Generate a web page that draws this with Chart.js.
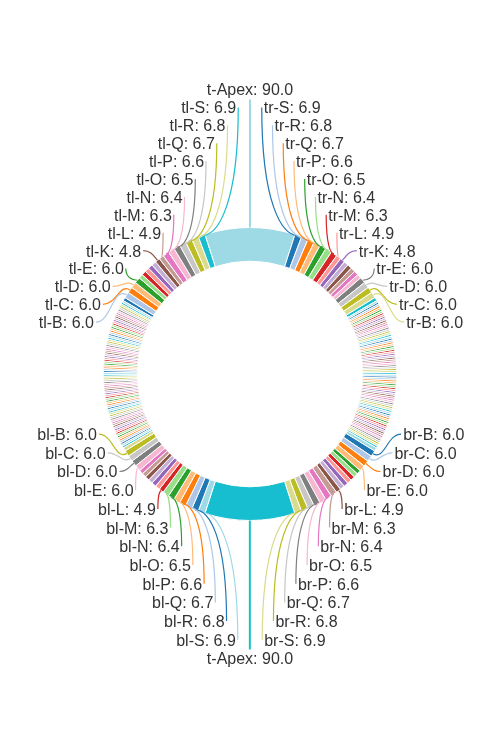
<!DOCTYPE html>
<html><head><meta charset="utf-8">
<script src="https://cdn.jsdelivr.net/npm/chart.js@4"></script>
<style>html,body{margin:0;padding:0;background:#fff}canvas{display:block}</style>
</head><body>
<canvas id="c" width="500" height="750"></canvas>
<script>
const letters = ['A','B','C','D','E','F','G','H','I','J','K','L','M','N','O','P','Q','R','S'];
const tlValues = [3.5,6.0,6.0,6.0,6.0,4.3,4.4,4.5,4.6,4.7,4.8,4.9,6.3,6.4,6.5,6.6,6.7,6.8,6.9];
const trValues = [3.5,6.0,6.0,6.0,6.0,4.3,4.4,4.5,4.6,4.7,4.8,4.9,6.3,6.4,6.5,6.6,6.7,6.8,6.9];
const brValues = [3.5,6.0,6.0,6.0,6.0,4.2,4.3,4.4,4.5,4.6,4.7,4.9,6.3,6.4,6.5,6.6,6.7,6.8,6.9];
const blValues = [3.5,6.0,6.0,6.0,6.0,4.2,4.3,4.4,4.5,4.6,4.7,4.9,6.3,6.4,6.5,6.6,6.7,6.8,6.9];
const topApexValue = 90.0;
const bottomApexValue = 90.0;
const thinRightValues = [
 1.9,1.9,1.9,1.9,1.9,1.9,1.9,1.9,1.9,1.9,
 1.9,1.9,1.9,1.9,1.9,1.9,1.9,1.9,1.9,1.9,
 1.9,1.9,1.9,1.9,1.9,1.9,1.9,1.9,1.9,1.9,
 1.9,1.9,1.9,1.9,1.9,1.9,1.9,1.9,1.9,1.9,
 1.9,1.9,1.9,1.9,1.9,1.9,1.9,1.9,1.9,1.9,
 1.9,1.9,1.9,1.9,1.9,1.9,1.9,1.9,1.9,1.9,
 1.9,1.9,1.9,1.9,1.9,1.9,1.9,1.9,1.9,1.9,
 1.9,1.9,1.9,1.9,1.9,1.9,1.9,1.9,1.9,1.9];
const thinLeftValues = [
 1.85,1.85,1.85,1.85,1.85,1.85,1.85,1.85,1.85,1.85,
 1.85,1.85,1.85,1.85,1.85,1.85,1.85,1.85,1.85,1.85,
 1.85,1.85,1.85,1.85,1.85,1.85,1.85,1.85,1.85,1.85,
 1.85,1.85,1.85,1.85,1.85,1.85,1.85,1.85,1.85,1.85,
 1.85,1.85,1.85,1.85,1.85,1.85,1.85,1.85,1.85,1.85,
 1.85,1.85,1.85,1.85,1.85,1.85,1.85,1.85,1.85,1.85,
 1.85,1.85,1.85,1.85,1.85,1.85,1.85,1.85,1.85,1.85,
 1.85,1.85,1.85,1.85,1.85,1.85,1.85,1.85,1.85,1.85,
 1.85,1.85];
const palette = ['#1f77b4','#aec7e8','#ff7f0e','#ffbb78','#2ca02c','#98df8a','#d62728','#ff9896',
 '#9467bd','#c5b0d5','#8c564b','#c49c94','#e377c2','#f7b6d2','#7f7f7f','#c7c7c7','#bcbd22','#dbdb8d','#17becf','#9edae5'];
const labelMin = 4.8;

// clockwise order, starting at tl-A
const names = [], values = [], kinds = [];
function add(n, v, k){ names.push(n); values.push(v); kinds.push(k); }
letters.forEach((l,i)=>add('tl-'+l, tlValues[i], 'side'));
add('t-Apex', topApexValue, 'apexTop');
for (let i=letters.length-1;i>=0;i--) add('tr-'+letters[i], trValues[i], 'side');
thinRightValues.forEach((v,i)=>add('r'+(i+1), v, 'thin'));
letters.forEach((l,i)=>add('br-'+l, brValues[i], 'side'));
add('t-Apex', bottomApexValue, 'apexBottom');
for (let i=letters.length-1;i>=0;i--) add('bl-'+letters[i], blValues[i], 'side');
thinLeftValues.forEach((v,i)=>add('l'+(i+1), v, 'thin'));
const colors = values.map((_,i)=>palette[i%palette.length]);

const total = values.reduce((a,b)=>a+b,0);
const beforeApex = tlValues.reduce((a,b)=>a+b,0) + topApexValue/2;
const rotation = -beforeApex/total*360;

const leaderPlugin = {
  id: 'leaders',
  afterDatasetsDraw(chart){
    const ctx = chart.ctx;
    const arcs = chart.getDatasetMeta(0).data;
    if (!arcs.length) return;
    const cx = arcs[0].x, cy = arcs[0].y, R = arcs[0].outerRadius;
    const apexOff = R + 138, Rl = R + 18;
    const spacing = { t: 17.9, b: 18.7 };
    const textDy = 1.5;
    const groups = {tl:[], tr:[], bl:[], br:[]};
    ctx.save();
    ctx.font = '16px "Liberation Sans", Arial, sans-serif';
    ctx.fillStyle = '#333';
    ctx.textBaseline = 'middle';
    arcs.forEach((a,i)=>{
      const mid = (a.startAngle + a.endAngle)/2;
      const sx = cx + Math.cos(mid)*R, sy = cy + Math.sin(mid)*R;
      const text = names[i] + ': ' + values[i].toFixed(1);
      if (kinds[i]==='apexTop' || kinds[i]==='apexBottom'){
        const top = kinds[i]==='apexTop';
        const ly = top ? cy-apexOff : cy+apexOff;
        ctx.strokeStyle = colors[i]; ctx.lineWidth = 2;
        ctx.beginPath(); ctx.moveTo(sx, sy); ctx.lineTo(sx, top ? ly+10 : ly-9); ctx.stroke();
        ctx.textAlign = 'center'; ctx.fillText(text, cx, ly + textDy);
        return;
      }
      if (kinds[i]!=='side' || values[i] < labelMin) return;
      const key = (sy<cy?'t':'b') + (sx<cx?'l':'r');
      groups[key].push({i, sx, sy, mid, text});
    });
    Object.keys(groups).forEach(key=>{
      const g = groups[key];
      g.sort((p,q)=>Math.abs(p.sx-cx)-Math.abs(q.sx-cx));
      const top = key[0]==='t', right = key[1]==='r';
      const step = spacing[key[0]];
      g.forEach((p,k)=>{
        const dy = apexOff - (k+1)*step;
        const ly = top ? cy-dy : cy+dy;
        const onRing = dy < Rl ? Math.sqrt(Rl*Rl - dy*dy) : 0;
        const dxl = Math.max(onRing, 3 + 0.6*(apexOff - dy));
        const lx = right ? cx+dxl : cx-dxl;
        const ax = right ? lx-2 : lx+2;
        const ddx = ax - p.sx, ddy = ly - p.sy;
        let c1x, c1y, c2x, c2y;
        if (Math.abs(ddy) > Math.abs(ddx)){
          c1x = p.sx + 0.45*ddx; c1y = p.sy;
          c2x = ax; c2y = ly - 0.75*ddy;
        } else {
          const d = Math.hypot(ddx, ddy);
          c1x = p.sx + Math.cos(p.mid)*0.4*d; c1y = p.sy + Math.sin(p.mid)*0.4*d;
          c2x = ax - (right?1:-1)*0.5*Math.abs(ddx); c2y = ly;
        }
        ctx.strokeStyle = colors[p.i]; ctx.lineWidth = 1.2;
        ctx.beginPath(); ctx.moveTo(p.sx, p.sy);
        ctx.bezierCurveTo(c1x, c1y, c2x, c2y, ax, ly); ctx.stroke();
        ctx.textAlign = right ? 'left' : 'right';
        ctx.fillText(p.text, lx, ly + textDy);
      });
    });
    ctx.restore();
  }
};

new Chart(document.getElementById('c'), {
  type: 'doughnut',
  data: { labels: names, datasets: [{ data: values, backgroundColor: colors, borderColor: '#ffffff', borderWidth: 1 }] },
  options: {
    responsive: false, animation: false, rotation: rotation, cutout: '77%',
    layout: { padding: { left: 103, right: 103, top: 0, bottom: 2 } },
    plugins: { legend: { display: false }, tooltip: { enabled: false } }
  },
  plugins: [leaderPlugin]
});
</script>
</body></html>
